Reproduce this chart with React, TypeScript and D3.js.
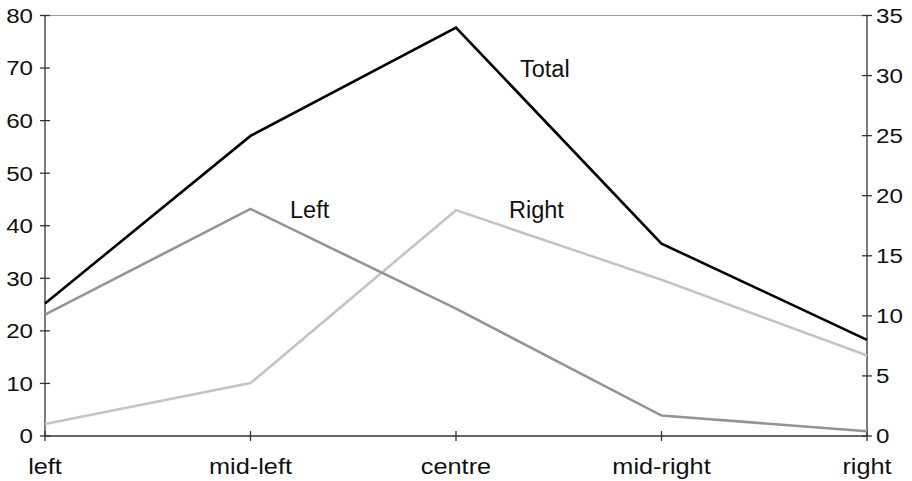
import React from "react";
import * as d3 from "d3";

const categories = ["left", "mid-left", "centre", "mid-right", "right"];
// Total read against the left axis (0-80)
const totalValues = [25.2, 57.1, 77.7, 36.6, 18.3];
// Left and Right read against the right axis (0-35)
const leftValues = [10.1, 18.9, 10.6, 1.7, 0.4];
const rightValues = [1.0, 4.4, 18.8, 13.0, 6.7];
const leftTicks = [0, 10, 20, 30, 40, 50, 60, 70, 80];
const rightTicks = [0, 5, 10, 15, 20, 25, 30, 35];

const W = 912;
const H = 481;
const x0 = 45;
const x1 = 867;
const yTop = 15.5;
const yBot = 436;

export default function App() {
  const x = d3.scalePoint<string>().domain(categories).range([x0, x1]);
  const yL = d3.scaleLinear().domain([0, 80]).range([yBot, yTop]);
  const yR = d3.scaleLinear().domain([0, 35]).range([yBot, yTop]);

  const lineL = d3
    .line<number>()
    .x((_, i) => x(categories[i]) as number)
    .y((d) => yL(d));
  const lineR = d3
    .line<number>()
    .x((_, i) => x(categories[i]) as number)
    .y((d) => yR(d));

  const tickFont = "Liberation Sans, Arial, sans-serif";
  const sx = 1.15;

  return (
    <svg
      width={W}
      height={H}
      style={{ position: "absolute", left: 0, top: 0, background: "#fff" }}
    >
      {/* top border */}
      <line x1={x0} x2={x1} y1={yTop} y2={yTop} stroke="#999" strokeWidth={1.2} />
      {/* axes */}
      <line x1={x0} x2={x0} y1={yTop} y2={yBot} stroke="#333" strokeWidth={1.3} />
      <line x1={x1} x2={x1} y1={yTop} y2={yBot} stroke="#333" strokeWidth={1.3} />
      <line x1={x0} x2={x1} y1={yBot} y2={yBot} stroke="#333" strokeWidth={1.3} />

      {leftTicks.map((t) => (
        <g key={"l" + t}>
          <line x1={x0 - 5} x2={x0 + 5} y1={yL(t)} y2={yL(t)} stroke="#333" strokeWidth={1.3} />
          <text
            transform={`translate(${x0 - 12},${yL(t) + 7.4}) scale(${sx},1)`}
            textAnchor="end"
            fontFamily={tickFont}
            fontSize={21}
            fill="#111"
          >
            {t}
          </text>
        </g>
      ))}
      {rightTicks.map((t) => (
        <g key={"r" + t}>
          <line x1={x1 - 5} x2={x1 + 5} y1={yR(t)} y2={yR(t)} stroke="#333" strokeWidth={1.3} />
          <text
            transform={`translate(${x1 + 9},${yR(t) + 7.4}) scale(${sx},1)`}
            textAnchor="start"
            fontFamily={tickFont}
            fontSize={21}
            fill="#111"
          >
            {t}
          </text>
        </g>
      ))}
      {categories.map((c) => (
        <g key={c}>
          <line
            x1={x(c) as number}
            x2={x(c) as number}
            y1={yBot - 5}
            y2={yBot + 5}
            stroke="#333"
            strokeWidth={1.3}
          />
          <text
            transform={`translate(${x(c) as number},${474}) scale(${sx},1)`}
            textAnchor="middle"
            fontFamily={tickFont}
            fontSize={22}
            fill="#111"
          >
            {c}
          </text>
        </g>
      ))}

      <path d={lineR(rightValues) as string} fill="none" stroke="#c4c4c4" strokeWidth={2.6} />
      <path d={lineR(leftValues) as string} fill="none" stroke="#949494" strokeWidth={2.6} />
      <path d={lineL(totalValues) as string} fill="none" stroke="#000" strokeWidth={2.6} />

      <text x={520} y={77} fontFamily={tickFont} fontSize={23.5} fill="#111">
        Total
      </text>
      <text x={290} y={218} fontFamily={tickFont} fontSize={23.5} fill="#111">
        Left
      </text>
      <text x={509} y={218} fontFamily={tickFont} fontSize={23.5} fill="#111">
        Right
      </text>
    </svg>
  );
}
